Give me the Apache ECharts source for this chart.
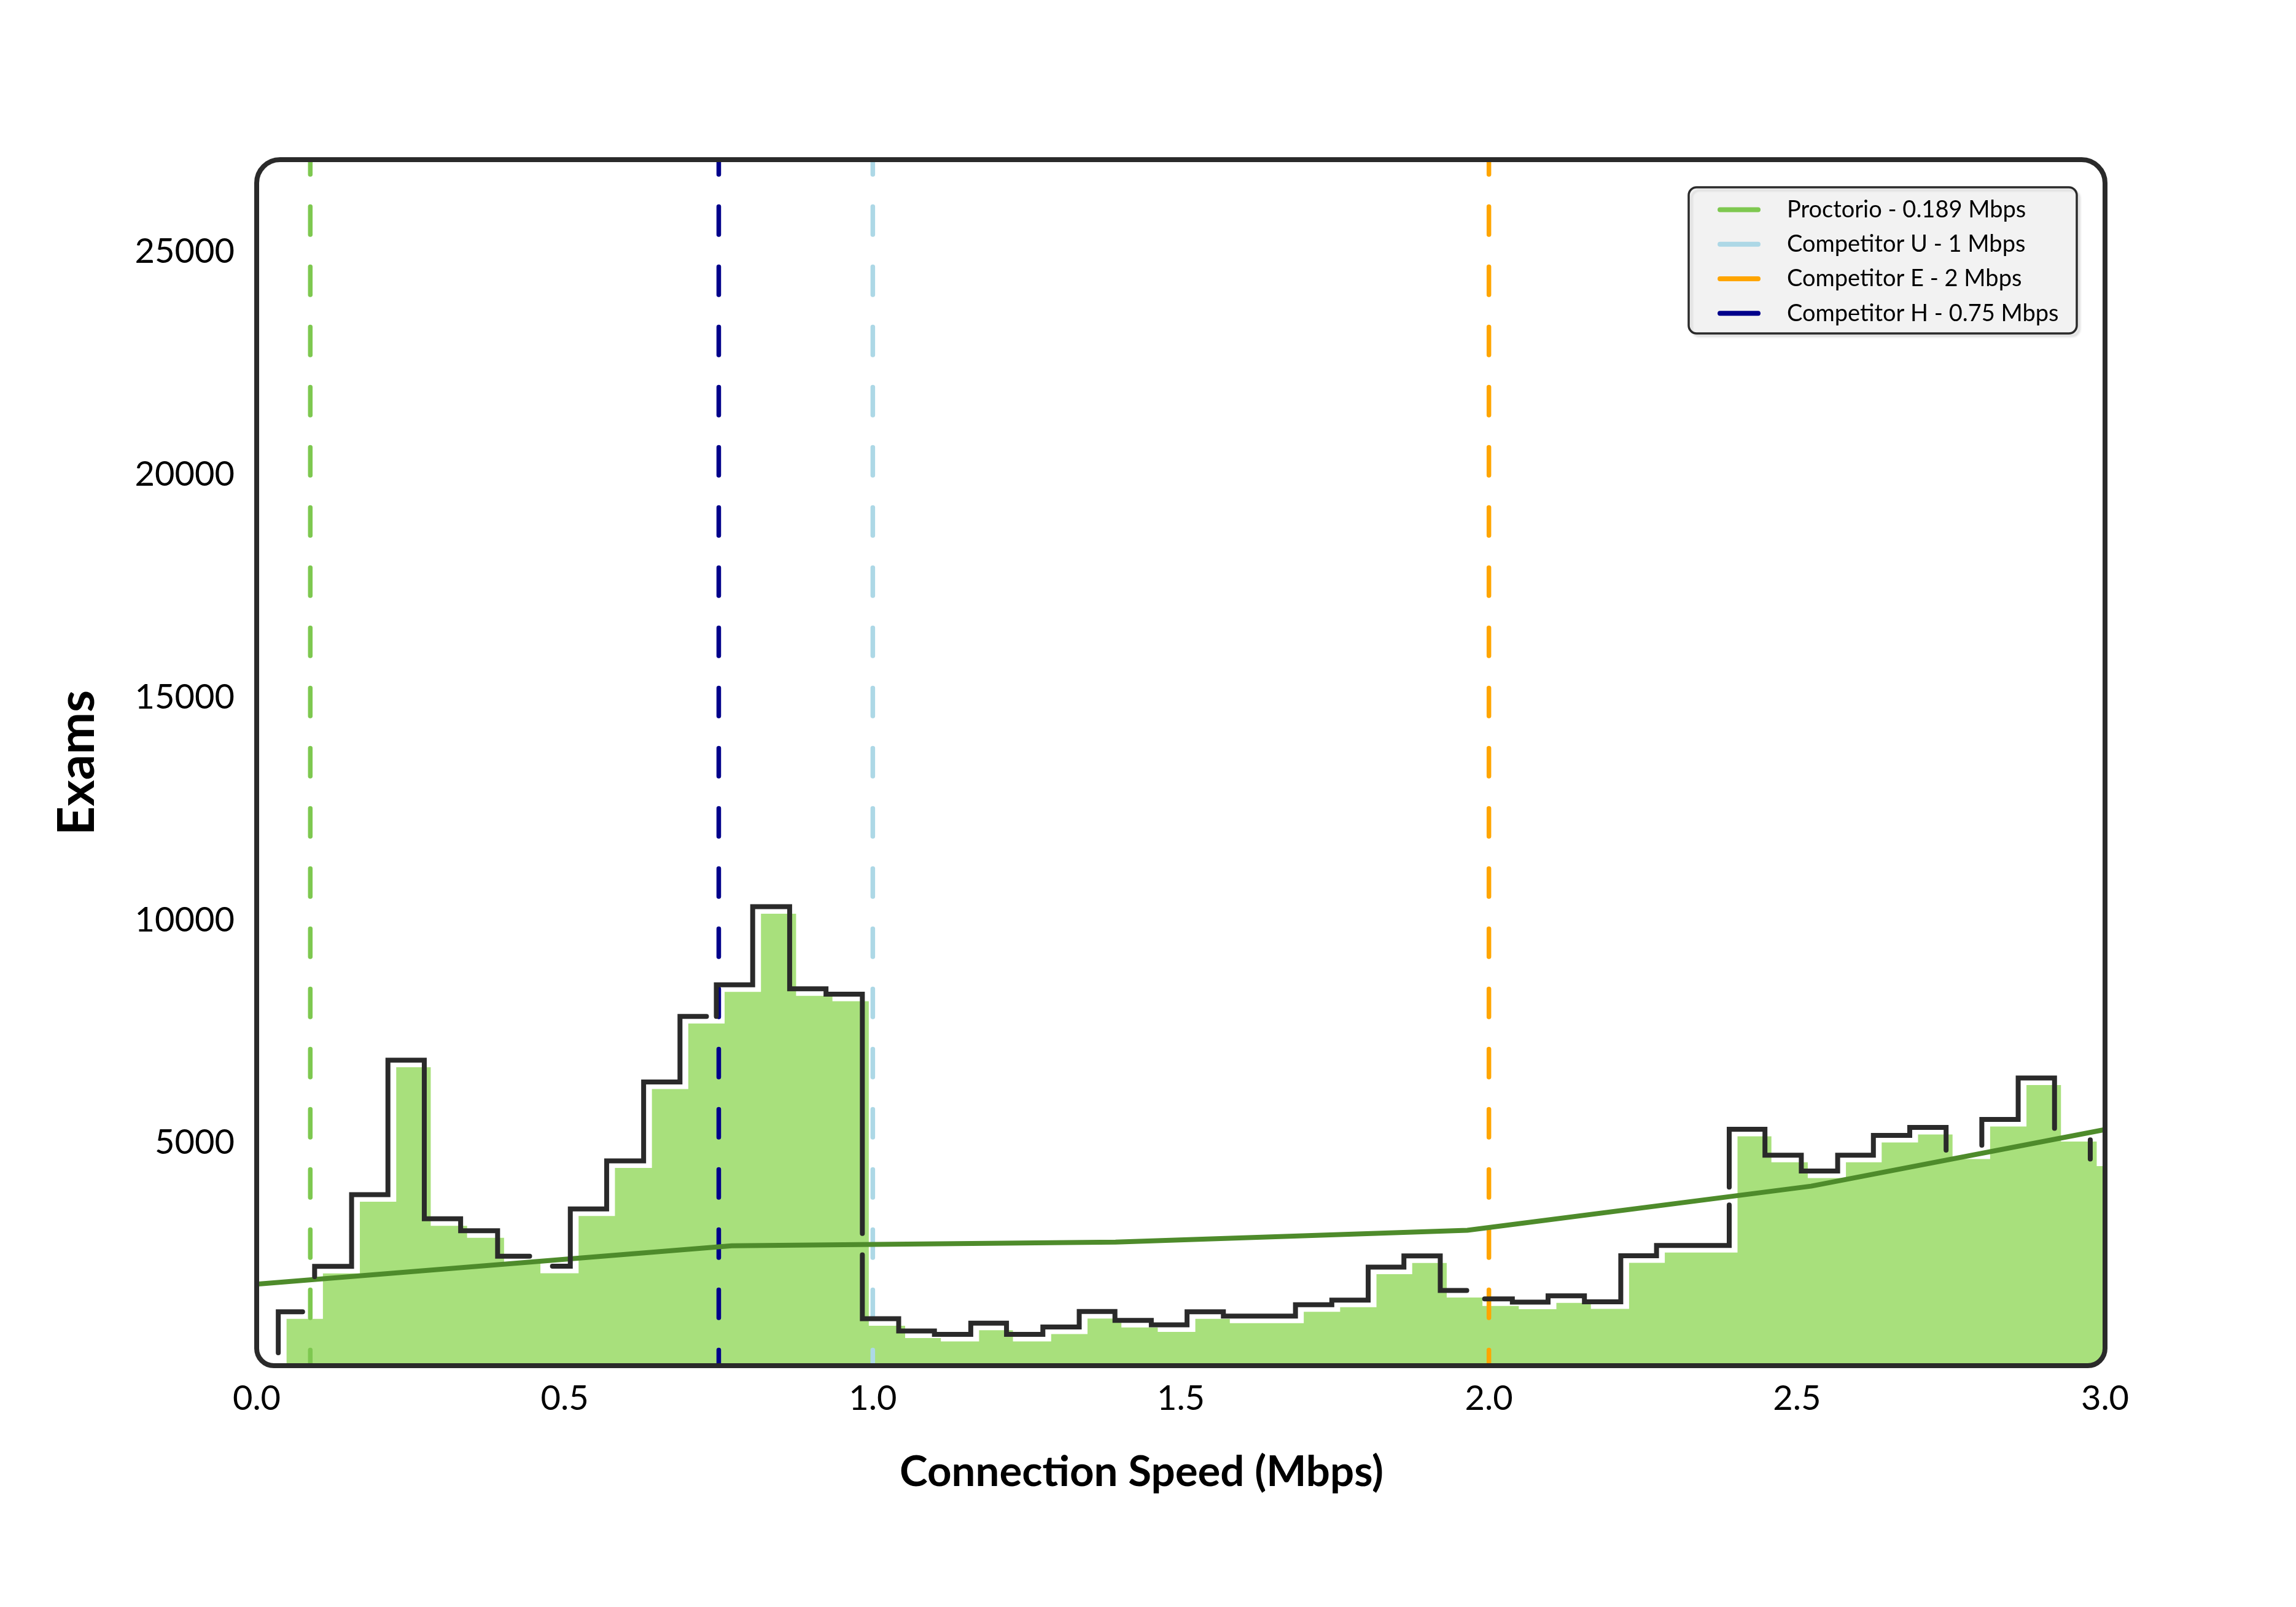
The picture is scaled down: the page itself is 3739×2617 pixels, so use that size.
<!DOCTYPE html>
<html lang="en">
<head>
    <meta charset="UTF-8">
    <title>index</title>
    <script src="https://cdn.jsdelivr.net/npm/echarts@6/dist/echarts.min.js"></script>
    <style>
        body { margin: 0; background: #fff; }
        #main { width: 3739px; height: 2617px; }
    </style>
</head>
<body>
<div id="main"></div>

<script type="text/javascript">
    // histogram bin edges (Mbps)
    var binEdges = [0.047, 0.106, 0.166, 0.225, 0.284, 0.343, 0.403, 0.462, 0.521, 0.580,
        0.640, 0.699, 0.758, 0.817, 0.877, 0.936, 0.995, 1.054, 1.112, 1.171,
        1.229, 1.288, 1.347, 1.405, 1.464, 1.522, 1.581, 1.640, 1.698, 1.757,
        1.816, 1.874, 1.933, 1.991, 2.050, 2.108, 2.167, 2.226, 2.284, 2.343,
        2.402, 2.460, 2.519, 2.578, 2.636, 2.695, 2.754, 2.812, 2.871, 2.930,
        2.988, 3.047];
    var examCounts = [1070, 2090, 3700, 6720, 3160, 2890, 2320, 2095, 3380, 4460,
        6230, 7700, 8410, 10165, 8320, 8200, 915, 640, 565, 815,
        565, 730, 1080, 880, 780, 1070, 975, 975, 1230, 1335,
        2075, 2325, 1550, 1360, 1290, 1430, 1295, 2330, 2560, 2560,
        5170, 4585, 4230, 4585, 5030, 5210, 4660, 5390, 6320, 5050, 4500];

    // trend line
    var trendX = [0, 0.771, 1.394, 1.965, 2.523, 3.0];
    var trendY = [1830, 2690, 2775, 3040, 4030, 5300];

    // reference speeds
    var refNames = ['Proctorio - 0.189 Mbps', 'Competitor U - 1 Mbps', 'Competitor E - 2 Mbps', 'Competitor H - 0.75 Mbps'];
    var refSpeeds = [0.087, 1.0, 2.0, 0.75];
    var refColors = ['#7ec850', '#add8e6', '#ffa500', '#00008b'];

    var xTicks = [0, 0.5, 1.0, 1.5, 2.0, 2.5, 3.0];
    var yTickStep = 5000;
    var yMax = 27070;
    var xMax = 3.0;

    // black outline pieces: [start, end], 'v' = on riser of bin i at y, 'h' = on top of bin i at x
    var outlinePieces = [
        [['v', 0, 150], ['h', 0, 0.0865]],
        [['v', 1, 1860], ['h', 6, 0.455]],
        [['h', 7, 0.492], ['h', 11, 0.742]],
        [['v', 12, 7700], ['v', 16, 2830]],
        [['v', 16, 2350], ['h', 32, 1.976]],
        [['h', 33, 2.005], ['v', 40, 3470]],
        [['v', 40, 3870], ['v', 46, 4700]],
        [['v', 47, 4810], ['v', 49, 5190]],
        [['v', 50, 4930], ['v', 50, 4500]]
    ];

    var G = {left: 418, top: 260, width: 3010, height: 1964};

    function stepVertices() {
        var v = [[binEdges[0], 0]];
        examCounts.forEach(function (c, i) {
            v.push([binEdges[i], c]);
            v.push([binEdges[i + 1], c]);
        });
        return v;
    }

    function specPoint(s) {
        return s[0] === 'v' ? [binEdges[s[1]], s[2]] : [s[2], examCounts[s[1]]];
    }
    function specSeg(s) {
        return s[0] === 'v' ? 2 * s[1] : 2 * s[1] + 1;
    }

    var myChart = echarts.init(document.getElementById('main'));

    var series = [];

    // filled histogram
    series.push({
        type: 'custom',
        z: 2,
        silent: true,
        data: [[0, 0]],
        renderItem: function (params, api) {
            var v = stepVertices();
            v.push([binEdges[examCounts.length], 0]);
            var pts = v.map(function (p) { return api.coord([Math.min(p[0], xMax), p[1]]); });
            return {
                type: 'polygon',
                shape: {points: pts},
                style: {fill: '#a8e07c', stroke: '#ffffff', lineWidth: 3}
            };
        }
    });

    // dashed reference lines
    refSpeeds.forEach(function (x, k) {
        series.push({
            type: 'line',
            name: refNames[k],
            z: 3,
            silent: true,
            symbol: 'none',
            data: [[x, 0], [x, yMax]],
            lineStyle: {color: refColors[k], width: 7.5, type: [45.5, 52.5], dashOffset: 20, cap: 'round'}
        });
    });

    // trend line
    series.push({
        type: 'line',
        z: 4,
        silent: true,
        symbol: 'none',
        data: trendX.map(function (x, i) { return [x, trendY[i]]; }),
        lineStyle: {color: '#4e8b2b', width: 8}
    });

    // black step outline, drawn shifted up-left
    series.push({
        type: 'custom',
        z: 5,
        silent: true,
        data: [[0, 0]],
        renderItem: function (params, api) {
            var v = stepVertices();
            var dx = -12, dy = -10;
            var children = outlinePieces.map(function (pc) {
                var a = specSeg(pc[0]), b = specSeg(pc[1]);
                var pts = [specPoint(pc[0])].concat(v.slice(a + 1, b + 1), [specPoint(pc[1])]);
                pts = pts.map(function (p) {
                    var q = api.coord([p[0], p[1]]);
                    return [q[0] + dx, q[1] + dy];
                });
                return {
                    type: 'polyline',
                    shape: {points: pts},
                    style: {stroke: '#2a2a2a', lineWidth: 8, lineCap: 'round', lineJoin: 'miter', fill: null}
                };
            });
            return {type: 'group', children: children};
        }
    });

    // legend (drawn by hand)
    var legendItems = [];
    legendItems.push({
        type: 'rect',
        shape: {x: 2750, y: 305, width: 632, height: 238, r: 13},
        style: {fill: '#f2f2f2', stroke: '#2a2a2a', lineWidth: 3.5,
            shadowColor: 'rgba(0,0,0,0.08)', shadowOffsetX: 5, shadowOffsetY: 5, shadowBlur: 3}
    });
    refNames.forEach(function (name, k) {
        var y = 341.4 + k * 56.3;
        legendItems.push({
            type: 'line',
            shape: {x1: 2801, y1: y, x2: 2863, y2: y},
            style: {stroke: refColors[k], lineWidth: 8, lineCap: 'round'}
        });
        legendItems.push({
            type: 'text',
            x: 2910, y: y,
            style: {text: name, fill: '#000', font: '38px Lato', textAlign: 'left', textVerticalAlign: 'middle'}
        });
    });

    var option = {
        backgroundColor: '#ffffff',
        animation: false,
        grid: {left: G.left, top: G.top, width: G.width, height: G.height, containLabel: false},
        xAxis: {
            type: 'value',
            min: 0, max: xMax, interval: 0.5,
            axisLine: {show: false}, axisTick: {show: false}, splitLine: {show: false},
            axisLabel: {
                margin: 26, fontSize: 56, fontFamily: 'Lato', color: '#000',
                formatter: function (v) { return xTicks.indexOf(v) >= 0 ? v.toFixed(1) : ''; }
            }
        },
        yAxis: {
            type: 'value',
            min: 0, max: yMax, interval: yTickStep,
            axisLine: {show: false}, axisTick: {show: false}, splitLine: {show: false},
            axisLabel: {
                margin: 36, fontSize: 56, fontFamily: 'Lato', color: '#000',
                formatter: function (v) { return (v > 0 && v % yTickStep === 0) ? String(v) : ''; }
            }
        },
        graphic: [
            {
                type: 'rect', z: 90, silent: true,
                shape: {x: G.left - 14, y: G.top - 14, width: G.width + 28, height: G.height + 28, r: [52, 52, 42, 42]},
                style: {fill: null, stroke: '#ffffff', lineWidth: 24}
            },
            {
                type: 'rect', z: 91, silent: true,
                shape: {x: G.left, y: G.top, width: G.width, height: G.height, r: [38, 38, 28, 28]},
                style: {fill: null, stroke: '#2a2a2a', lineWidth: 8}
            },
            {type: 'group', z: 95, children: legendItems},
            {
                type: 'text', z: 95, x: 127, y: 1242, rotation: Math.PI / 2,
                style: {text: 'Exams', fill: '#000', font: 'bold 82px Lato', textAlign: 'center', textVerticalAlign: 'middle'}
            },
            {
                type: 'text', z: 95, x: 1859, y: 2398,
                style: {text: 'Connection Speed (Mbps)', fill: '#000', font: 'bold 69px Lato', textAlign: 'center', textVerticalAlign: 'middle'}
            }
        ],
        series: series
    };

    myChart.setOption(option);
</script>
</body>
</html>
